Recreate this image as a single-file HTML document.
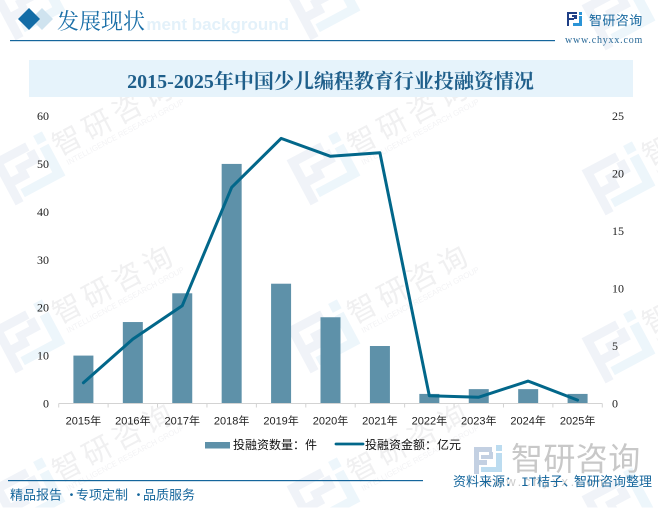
<!DOCTYPE html>
<html lang="zh">
<head>
<meta charset="utf-8">
<title>2015-2025年中国少儿编程教育行业投融资情况</title>
<style>
html,body{margin:0;padding:0;background:#fff;}
#stage{position:relative;width:658px;height:508px;overflow:hidden;background:#fff;}
svg{position:absolute;left:0;top:0;}
</style>
</head>
<body>
<div id="stage">
<svg id="chart" width="658" height="508" viewBox="0 0 658 508" xmlns="http://www.w3.org/2000/svg">
  <g id="watermarks"></g>
  <text x="289" y="30" text-anchor="end" font-family="Liberation Sans, sans-serif" font-weight="700" font-size="17" fill="#e3f1fa">ment background</text>
  <polygon points="42,8 53,19 42,30 31,19" fill="#cfe3ef"/>
  <polygon points="29,8 40,19 29,30 18,19" fill="#126ca6"/>
  <text x="57" y="29" font-family="Noto Serif CJK SC, serif" font-size="22" fill="#1a6fa8">发展现状</text>
  <rect x="10" y="40" width="545" height="1.2" fill="#15669c"/>
  <g>
    <path d="M567 12h10v2h-8v4h5v2h-5v6h-2zM572 15h5v4h-3v-2h-2z" fill="#1f3f86"/>
    <path d="M579 12h3v3h-3zM579 16h3v10h-9v-3h6z" fill="#2b94d6"/>
  </g>
  <text x="589" y="25" font-family="Noto Sans CJK SC, sans-serif" font-size="13" letter-spacing="0.4" fill="#17689f">智研咨询</text>
  <text x="565" y="43" font-family="Liberation Serif, serif" font-size="10" letter-spacing="0.8" fill="#2a6a98">www.chyxx.com</text>

  <rect x="29" y="60" width="604" height="37" fill="#e6f3fb"/>
  <text x="330.5" y="88" text-anchor="middle" font-family="Liberation Serif, Noto Serif CJK SC, serif" font-weight="700" font-size="20" fill="#1f5f8b">2015-2025年中国少儿编程教育行业投融资情况</text>

  <g id="plot"></g>

  <g>
    <g>
      <rect x="205" y="442" width="25" height="6.5" fill="#5e91a9"/>
      <text x="233" y="449" font-family="WenQuanYi Zen Hei, Noto Sans CJK SC, sans-serif" font-size="12" fill="#111">投融资数量：件</text>
    </g>
    <g>
      <line x1="336" y1="444" x2="363" y2="444" stroke="#02678a" stroke-width="2.8" stroke-linecap="round"/>
      <text x="365" y="449" font-family="WenQuanYi Zen Hei, Noto Sans CJK SC, sans-serif" font-size="12" fill="#111">投融资金额：亿元</text>
    </g>
  </g>

  <g>
    <path d="M474 447h18v5h-13v8h8v5h-8v9h-5z" fill="#c3d0e2"/>
    <path d="M481 455h8v-3h4v7h-12z" fill="#c3d0e2"/>
    <path d="M496 445h6v6h-6zM496 453h6v19h-21v-5h15z" fill="#bcdcf0"/>
  </g>
  <text x="511" y="470" font-family="Noto Sans CJK SC, sans-serif" font-size="32" letter-spacing="0.4" fill="#c8c8c8">智研咨询</text>
  <text x="482" y="486" font-family="Liberation Sans, sans-serif" font-size="13" textLength="125" fill="#cccccc">www.chyxx.com</text>

  <rect x="8" y="480" width="415" height="1.2" fill="#15669c"/>
  <text y="499.5" font-family="Noto Sans CJK SC, sans-serif" font-size="13" fill="#15669c"><tspan x="10">精品报告</tspan><tspan x="65">·</tspan><tspan x="76">专项定制</tspan><tspan x="132">·</tspan><tspan x="143">品质服务</tspan></text>
  <text y="486" font-family="Liberation Mono, WenQuanYi Zen Hei, Noto Sans CJK SC, sans-serif" font-size="13" fill="#15669c"><tspan x="453">资料来源：</tspan><tspan x="521">IT</tspan><tspan x="537">桔子、</tspan><tspan x="574">智研咨询整理</tspan></text>
</svg>
</div>

<script>
const categories = ['2015年','2016年','2017年','2018年','2019年','2020年','2021年','2022年','2023年','2024年','2025年'];
const dealCounts = [10,17,23,50,25,18,12,2,3,3,2];
const fundingAmounts = [1.8,5.6,8.5,18.8,23.05,21.5,21.8,0.68,0.55,1.95,0.3];
const leftTicks = [0,10,20,30,40,50,60];
const rightTicks = [0,5,10,15,20,25];

const NS = 'http://www.w3.org/2000/svg';
const plotLeft = 58.7, plotRight = 602.3, plotBottom = 403.5, plotTop = 116;
const leftMax = 60, rightMax = 25;
const barWidth = 20;

function xCenter(i){ return plotLeft + (plotRight - plotLeft) * (i + 0.5) / categories.length; }
function yLeft(v){ return plotBottom - (plotBottom - plotTop) * v / leftMax; }
function yRight(v){ return plotBottom - (plotBottom - plotTop) * v / rightMax; }
function make(tag, attrs, parent){
  const el = document.createElementNS(NS, tag);
  for (const k in attrs) el.setAttribute(k, attrs[k]);
  parent.appendChild(el);
  return el;
}

const plot = document.getElementById('plot');
const axisFont = '"Liberation Serif","WenQuanYi Zen Hei",serif';
const xFont = '"Liberation Sans","WenQuanYi Zen Hei",sans-serif';

dealCounts.forEach(function(v, i){
  const bar = make('rect', {x: xCenter(i) - barWidth / 2, y: yLeft(v), width: barWidth, height: plotBottom - yLeft(v), fill: '#5e91a9'}, plot);
  
  
});

const axis = make('line', {x1: plotLeft, y1: plotBottom, x2: plotRight, y2: plotBottom, stroke: '#d3d3d3', 'stroke-width': 1}, plot);



for (let i = 0; i <= categories.length; i++) {
  const tx = plotLeft + (plotRight - plotLeft) * i / categories.length;
  const tick = make('line', {x1: tx, y1: plotBottom, x2: tx, y2: plotBottom + 4, stroke: '#d3d3d3', 'stroke-width': 1}, plot);
  
  
}

categories.forEach(function(c, i){
  const t = make('text', {x: xCenter(i), y: 424.5, 'text-anchor': 'middle', 'font-size': 11, 'font-family': xFont, fill: '#222'}, plot);
  t.textContent = c;
  
  
});

leftTicks.forEach(function(v){
  const t = make('text', {x: 49, y: yLeft(v) + 4, 'text-anchor': 'end', 'font-size': 12, 'font-family': axisFont, fill: '#222'}, plot);
  t.textContent = v;
  
  
});

rightTicks.forEach(function(v){
  const t = make('text', {x: 612, y: yRight(v) + 4, 'font-size': 12, 'font-family': axisFont, fill: '#222'}, plot);
  t.textContent = v;
  
  
});

const linePoints = fundingAmounts.map(function(v, i){ return xCenter(i).toFixed(1) + ',' + yRight(v).toFixed(1); }).join(' ');
const fundingLine = make('polyline', {points: linePoints, fill: 'none', stroke: '#02678a', 'stroke-width': 3, 'stroke-linecap': 'round', 'stroke-linejoin': 'round'}, plot);



/* background watermark tiles: logos are projected into page space and trimmed at the frame edge */
const wmLayer = document.getElementById('watermarks');
const wmColumns = [[27,0],[322,0],[617,10]];
const wmRows = [12,177,345,503];
const wmAngle = 28 * Math.PI / 180;
const logoOffset = [6.6,-7.3];
const logoShapes = [
  {fill:'#f0f3f8', pts:[[-30,-24],[8,-24],[8,-15],[-21,-15],[-21,0],[-4,0],[-4,9],[-21,9],[-21,27],[-30,27]]},
  {fill:'#f0f3f8', pts:[[-12,-8],[4,-8],[4,-14],[13,-14],[13,0],[-12,0]]},
  {fill:'#edf6fb', pts:[[18,-26],[28,-26],[28,-16],[18,-16]]},
  {fill:'#edf6fb', pts:[[18,-12],[28,-12],[28,24],[-18,24],[-18,15],[18,15]]}
];
function clipBottom(pts, maxY){
  const out = [];
  pts.forEach(function(p, i){
    const q = pts[(i + 1) % pts.length];
    if (p[1] <= maxY) out.push(p);
    if ((p[1] <= maxY) !== (q[1] <= maxY)) {
      const t = (maxY - p[1]) / (q[1] - p[1]);
      out.push([p[0] + (q[0] - p[0]) * t, maxY]);
    }
  });
  return out;
}
wmColumns.forEach(function(col){
  wmRows.forEach(function(row, rowIndex){
    const ox = col[0], oy = row + col[1];
    logoShapes.forEach(function(shape){
      const screen = shape.pts.map(function(p){
        const lx = p[0] + logoOffset[0], ly = p[1] + logoOffset[1];
        return [ox + lx * Math.cos(wmAngle) + ly * Math.sin(wmAngle), oy - lx * Math.sin(wmAngle) + ly * Math.cos(wmAngle)];
      });
      const clipped = clipBottom(screen, 507.5);
      if (clipped.length < 3) return;
      const poly = make('polygon', {points: clipped.map(function(p){ return p[0].toFixed(1) + ',' + p[1].toFixed(1); }).join(' '), fill: shape.fill}, wmLayer);
      
      
    });
    if (rowIndex === 0 || oy > 505) return;
    const g = make('g', {transform: 'translate(' + ox + ' ' + oy + ') rotate(-28)'}, wmLayer);
    
    
    const name = make('text', {x: 38, y: -3, 'font-size': 29, 'letter-spacing': 5, 'font-family': '"Noto Sans CJK SC",sans-serif', fill: '#f0f0f1'}, g);
    name.textContent = '智研咨询';
    
    
    const sub = make('text', {x: 42, y: 9, 'font-size': 8, textLength: 132, lengthAdjust: 'spacingAndGlyphs', 'font-family': '"Liberation Sans",sans-serif', fill: '#f3f3f5'}, g);
    sub.textContent = 'INTELLIGENCE RESEARCH GROUP';
    
    
  });
});
</script>
</body>
</html>
